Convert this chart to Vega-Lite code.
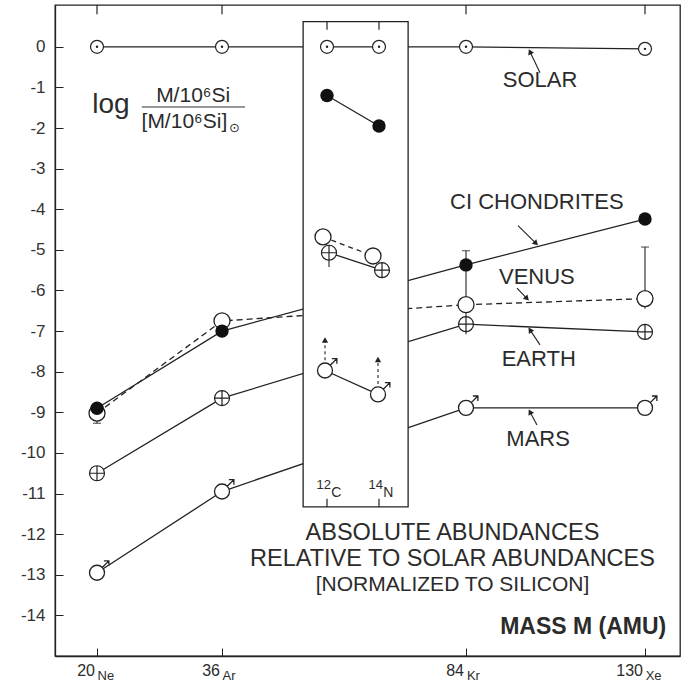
{
  "$schema": "https://vega.github.io/schema/vega-lite/v6.json",
  "width": 625,
  "height": 651,
  "autosize": {"type": "none"},
  "padding": {"left": 55, "top": 5, "right": 3, "bottom": 27},
  "background": "white",
  "config": {
    "view": {"stroke": "#222", "strokeWidth": 1.3},
    "font": "Liberation Sans",
    "text": {"font": "Liberation Sans", "color": "#2b2b2b"}
  },
  "datasets": {
    "pts": [
      {"series": "Solar", "part": "main", "el": "Ne", "x": 6.72, "y": 0},
      {"series": "Solar", "part": "main", "el": "Ar", "x": 26.72, "y": 0},
      {"series": "Solar", "part": "main", "el": "Kr", "x": 65.76, "y": 0},
      {"series": "Solar", "part": "main", "el": "Xe", "x": 94.4, "y": -0.05},
      {"series": "Solar", "part": "inset", "el": "C", "x": 43.52, "y": 0},
      {"series": "Solar", "part": "inset", "el": "N", "x": 51.84, "y": 0},
      {"series": "CI", "part": "main", "el": "Ne", "x": 6.72, "y": -8.9},
      {"series": "CI", "part": "main", "el": "Ar", "x": 26.72, "y": -7.0},
      {"series": "CI", "part": "main", "el": "Kr", "x": 65.76, "y": -5.37},
      {"series": "CI", "part": "main", "el": "Xe", "x": 94.4, "y": -4.24},
      {"series": "CI", "part": "inset", "el": "C", "x": 43.52, "y": -1.2},
      {"series": "CI", "part": "inset", "el": "N", "x": 51.84, "y": -1.95},
      {"series": "Venus", "part": "main", "el": "Ne", "x": 6.72, "y": -9.02},
      {"series": "Venus", "part": "main", "el": "Ar", "x": 26.72, "y": -6.75},
      {"series": "Venus", "part": "main", "el": "Kr", "x": 65.76, "y": -6.35},
      {"series": "Venus", "part": "main", "el": "Xe", "x": 94.4, "y": -6.2},
      {"series": "Venus", "part": "inset", "el": "C", "x": 42.88, "y": -4.68},
      {"series": "Venus", "part": "inset", "el": "N", "x": 50.88, "y": -5.15},
      {"series": "Earth", "part": "main", "el": "Ne", "x": 6.72, "y": -10.5},
      {"series": "Earth", "part": "main", "el": "Ar", "x": 26.72, "y": -8.65},
      {"series": "Earth", "part": "main", "el": "Kr", "x": 65.76, "y": -6.83},
      {"series": "Earth", "part": "main", "el": "Xe", "x": 94.4, "y": -7.02},
      {"series": "Earth", "part": "inset", "el": "C", "x": 43.84, "y": -5.07},
      {"series": "Earth", "part": "inset", "el": "N", "x": 52.32, "y": -5.5},
      {"series": "Mars", "part": "main", "el": "Ne", "x": 6.72, "y": -12.95},
      {"series": "Mars", "part": "main", "el": "Ar", "x": 26.72, "y": -10.95},
      {"series": "Mars", "part": "main", "el": "Kr", "x": 65.76, "y": -8.89},
      {"series": "Mars", "part": "main", "el": "Xe", "x": 94.4, "y": -8.89},
      {"series": "Mars", "part": "inset", "el": "C", "x": 43.2, "y": -7.97},
      {"series": "Mars", "part": "inset", "el": "N", "x": 51.68, "y": -8.56}
    ],
    "errs": [
      {"x": 6.72, "lo": -9.02, "hi": -9.27},
      {"x": 65.76, "lo": -5.02, "hi": -5.37},
      {"x": 65.76, "lo": -5.45, "hi": -6.6},
      {"x": 65.76, "lo": -6.6, "hi": -7.08},
      {"x": 94.4, "lo": -4.93, "hi": -6.45},
      {"x": 94.4, "lo": -6.85, "hi": -7.18},
      {"x": 43.84, "lo": -4.88, "hi": -5.42}
    ],
    "caps": [
      {"x": 6.72, "y": -9.27},
      {"x": 65.76, "y": -5.02},
      {"x": 94.4, "y": -4.93}
    ],
    "arrows": [
      {"kind": "label", "x": 77.6, "y": -0.64, "tx": 76.0, "ty": -0.12},
      {"kind": "label", "x": 74.08, "y": -4.4, "tx": 76.96, "ty": -4.84},
      {"kind": "label", "x": 73.92, "y": -5.94, "tx": 75.52, "ty": -6.2},
      {"kind": "label", "x": 77.6, "y": -7.34, "tx": 76.0, "ty": -6.97},
      {"kind": "label", "x": 77.12, "y": -9.31, "tx": 76.0, "ty": -8.99},
      {"kind": "limit", "x": 43.2, "y": -7.72, "tx": 43.2, "ty": -7.22},
      {"kind": "limit", "x": 51.68, "y": -8.3, "tx": 51.68, "ty": -7.7}
    ],
    "boxticks": [
      {"x": 43.52, "y": 0.62, "y2": 0.42},
      {"x": 51.84, "y": 0.62, "y2": 0.42},
      {"x": 43.52, "y": -11.33, "y2": -11.13},
      {"x": 51.84, "y": -11.33, "y2": -11.13}
    ],
    "topticks": [{"x": 6.72}, {"x": 26.72}, {"x": 65.76}, {"x": 94.4}],
    "texts": [
      {"role": "series", "t": "SOLAR", "x": 77.6, "y": -0.81},
      {"role": "series", "t": "CI CHONDRITES", "x": 77.1, "y": -3.83},
      {"role": "series", "t": "VENUS", "x": 77.1, "y": -5.66},
      {"role": "series", "t": "EARTH", "x": 77.4, "y": -7.68},
      {"role": "series", "t": "MARS", "x": 77.3, "y": -9.66},
      {"role": "title", "t": "ABSOLUTE ABUNDANCES", "x": 63.6, "y": -11.96},
      {"role": "title", "t": "RELATIVE TO SOLAR ABUNDANCES", "x": 63.6, "y": -12.6},
      {"role": "title3", "t": "[NORMALIZED TO SILICON]", "x": 63.6, "y": -13.24},
      {"role": "mass", "t": "MASS M (AMU)", "x": 97.8, "y": -14.28},
      {"role": "log", "t": "log", "x": 8.96, "y": -1.43},
      {"role": "frac", "t": "M/10⁶Si", "x": 22.1, "y": -1.2},
      {"role": "frac", "t": "[M/10⁶Si]", "x": 20.7, "y": -1.84},
      {"role": "sun", "t": "⊙", "x": 28.7, "y": -2.0},
      {"role": "num", "t": "20", "x": 6.4, "y": -15.37},
      {"role": "num", "t": "36", "x": 26.4, "y": -15.37},
      {"role": "num", "t": "84", "x": 65.44, "y": -15.37},
      {"role": "num", "t": "130", "x": 94.08, "y": -15.37},
      {"role": "el", "t": "Ne", "x": 6.8, "y": -15.5},
      {"role": "el", "t": "Ar", "x": 26.8, "y": -15.5},
      {"role": "el", "t": "Kr", "x": 65.9, "y": -15.5},
      {"role": "el", "t": "Xe", "x": 94.5, "y": -15.5},
      {"role": "boxnum", "t": "12", "x": 44.16, "y": -10.8},
      {"role": "boxnum", "t": "14", "x": 52.48, "y": -10.8},
      {"role": "boxel", "t": "C", "x": 44.2, "y": -10.98},
      {"role": "boxel", "t": "N", "x": 52.5, "y": -10.98}
    ]
  },
  "layer": [
    {
      "data": {"name": "pts"},
      "transform": [{"filter": "datum.part == 'main' && datum.series != 'Venus'"}],
      "mark": {"type": "line", "color": "#222", "strokeWidth": 1.3},
      "encoding": {
        "x": {"field": "x", "type": "quantitative", "scale": {"domain": [0, 100], "nice": false, "zero": false},
          "axis": {"title": null, "values": [6.72, 26.72, 65.76, 94.4], "labels": false, "tickSize": -8, "grid": false, "domainColor": "#222", "tickColor": "#222", "domainWidth": 1.3}},
        "y": {"field": "y", "type": "quantitative", "scale": {"domain": [-15, 1.03], "nice": false, "zero": false},
          "axis": {"title": null, "values": [0, -1, -2, -3, -4, -5, -6, -7, -8, -9, -10, -11, -12, -13, -14], "tickSize": -8, "labelPadding": 18, "labelFontSize": 17, "labelFont": "Liberation Sans", "labelColor": "#333", "grid": false, "domainColor": "#222", "tickColor": "#222", "domainWidth": 1.3, "labelExpr": "replace(datum.label, '−', '-')"}},
        "detail": {"field": "series"}
      }
    },
    {
      "data": {"name": "pts"},
      "transform": [{"filter": "datum.part == 'main' && datum.series == 'Venus'"}],
      "mark": {"type": "line", "color": "#222", "strokeWidth": 1.3, "strokeDash": [6, 4]},
      "encoding": {"x": {"field": "x", "type": "quantitative"}, "y": {"field": "y", "type": "quantitative"}}
    },
    {
      "data": {"values": [{}]},
      "mark": {"type": "rect", "fill": "white", "stroke": "#222", "strokeWidth": 1.3},
      "encoding": {"x": {"datum": 39.7}, "x2": {"datum": 56.5}, "y": {"datum": 0.62}, "y2": {"datum": -11.33}}
    },
    {
      "data": {"name": "boxticks"},
      "mark": {"type": "rule", "color": "#222", "strokeWidth": 1.2},
      "encoding": {"x": {"field": "x", "type": "quantitative"}, "y": {"field": "y", "type": "quantitative"}, "y2": {"field": "y2"}}
    },
    {
      "data": {"name": "topticks"},
      "mark": {"type": "rule", "color": "#222", "strokeWidth": 1.2},
      "encoding": {"x": {"field": "x", "type": "quantitative"}, "y": {"datum": 1.03}, "y2": {"datum": 0.8}}
    },
    {
      "data": {"name": "pts"},
      "transform": [{"filter": "datum.part == 'inset' && datum.series != 'Venus' && datum.series != 'Mars'"}],
      "mark": {"type": "line", "color": "#222", "strokeWidth": 1.3},
      "encoding": {"x": {"field": "x", "type": "quantitative"}, "y": {"field": "y", "type": "quantitative"}, "detail": {"field": "series"}}
    },
    {
      "data": {"name": "pts"},
      "transform": [{"filter": "datum.part == 'inset' && datum.series == 'Mars'"}],
      "mark": {"type": "line", "color": "#222", "strokeWidth": 1.3},
      "encoding": {"x": {"field": "x", "type": "quantitative"}, "y": {"field": "y", "type": "quantitative"}}
    },
    {
      "data": {"name": "pts"},
      "transform": [{"filter": "datum.part == 'inset' && datum.series == 'Venus'"}],
      "mark": {"type": "line", "color": "#222", "strokeWidth": 1.3, "strokeDash": [5, 4]},
      "encoding": {"x": {"field": "x", "type": "quantitative"}, "y": {"field": "y", "type": "quantitative"}}
    },
    {
      "data": {"name": "errs"},
      "mark": {"type": "rule", "color": "#222", "strokeWidth": 1.1},
      "encoding": {"x": {"field": "x", "type": "quantitative"}, "y": {"field": "lo", "type": "quantitative"}, "y2": {"field": "hi"}}
    },
    {
      "data": {"name": "caps"},
      "mark": {"type": "tick", "orient": "horizontal", "color": "#222", "size": 8, "thickness": 1.2},
      "encoding": {"x": {"field": "x", "type": "quantitative"}, "y": {"field": "y", "type": "quantitative"}}
    },
    {
      "data": {"name": "arrows"},
      "transform": [{"filter": "datum.kind == 'label'"}],
      "mark": {"type": "rule", "color": "#222", "strokeWidth": 1.1},
      "encoding": {"x": {"field": "x", "type": "quantitative"}, "y": {"field": "y", "type": "quantitative"}, "x2": {"field": "tx"}, "y2": {"field": "ty"}}
    },
    {
      "data": {"name": "arrows"},
      "transform": [{"filter": "datum.kind == 'limit'"}],
      "mark": {"type": "rule", "color": "#222", "strokeWidth": 1.1, "strokeDash": [3, 3]},
      "encoding": {"x": {"field": "x", "type": "quantitative"}, "y": {"field": "y", "type": "quantitative"}, "x2": {"field": "tx"}, "y2": {"field": "ty"}}
    },
    {
      "data": {"name": "arrows"},
      "transform": [{"calculate": "atan2((datum.tx - datum.x) * 6.25, (datum.ty - datum.y) * 40.6) * 180 / PI", "as": "ang"}],
      "mark": {"type": "point", "shape": "triangle-up", "filled": true, "color": "#222", "size": 40, "opacity": 1},
      "encoding": {"x": {"field": "tx", "type": "quantitative"}, "y": {"field": "ty", "type": "quantitative"}, "angle": {"field": "ang", "type": "quantitative", "scale": null}}
    },
    {
      "data": {"name": "pts"},
      "transform": [{"filter": "datum.series == 'Venus'"}],
      "mark": {"type": "point", "shape": "circle", "filled": false, "fill": "white", "fillOpacity": 1, "stroke": "#222", "strokeWidth": 1.3, "size": 256, "opacity": 1},
      "encoding": {"x": {"field": "x", "type": "quantitative"}, "y": {"field": "y", "type": "quantitative"}}
    },
    {
      "data": {"name": "pts"},
      "transform": [{"filter": "datum.series == 'Earth'"}],
      "mark": {"type": "point", "shape": "M-1,0A1,1 0 1,0 1,0A1,1 0 1,0 -1,0ZM-1,0L1,0M0,-1L0,1", "filled": false, "fill": "white", "fillOpacity": 1, "stroke": "#222", "strokeWidth": 1.2, "size": 225, "opacity": 1},
      "encoding": {"x": {"field": "x", "type": "quantitative"}, "y": {"field": "y", "type": "quantitative"}}
    },
    {
      "data": {"name": "pts"},
      "transform": [{"filter": "datum.series == 'Mars'"}],
      "mark": {"type": "point", "shape": "M-0.6,0A0.6,0.6 0 1,0 0.6,0A0.6,0.6 0 1,0 -0.6,0ZM0.42,-0.42L0.95,-0.95M0.55,-0.95L0.95,-0.95L0.95,-0.55", "filled": false, "fill": "white", "fillOpacity": 1, "stroke": "#222", "strokeWidth": 1.3, "size": 625, "opacity": 1},
      "encoding": {"x": {"field": "x", "type": "quantitative"}, "y": {"field": "y", "type": "quantitative"}}
    },
    {
      "data": {"name": "pts"},
      "transform": [{"filter": "datum.series == 'Solar'"}],
      "mark": {"type": "point", "shape": "circle", "filled": false, "fill": "white", "fillOpacity": 1, "stroke": "#222", "strokeWidth": 1.2, "size": 169, "opacity": 1},
      "encoding": {"x": {"field": "x", "type": "quantitative"}, "y": {"field": "y", "type": "quantitative"}}
    },
    {
      "data": {"name": "pts"},
      "transform": [{"filter": "datum.series == 'Solar'"}],
      "mark": {"type": "point", "shape": "circle", "filled": true, "color": "#222", "size": 6, "opacity": 1},
      "encoding": {"x": {"field": "x", "type": "quantitative"}, "y": {"field": "y", "type": "quantitative"}}
    },
    {
      "data": {"name": "pts"},
      "transform": [{"filter": "datum.series == 'CI'"}],
      "mark": {"type": "point", "shape": "circle", "filled": true, "color": "#111", "size": 180, "opacity": 1},
      "encoding": {"x": {"field": "x", "type": "quantitative"}, "y": {"field": "y", "type": "quantitative"}}
    },
    {
      "data": {"values": [{}]},
      "mark": {"type": "rule", "color": "#333", "strokeWidth": 1.1},
      "encoding": {"x": {"datum": 13.9}, "x2": {"datum": 30.4}, "y": {"datum": -1.48}}
    },
    {
      "data": {"name": "texts"},
      "transform": [{"filter": "datum.role == 'series'"}],
      "mark": {"type": "text", "fontSize": 22, "align": "center", "baseline": "middle"},
      "encoding": {"x": {"field": "x", "type": "quantitative"}, "y": {"field": "y", "type": "quantitative"}, "text": {"field": "t"}}
    },
    {
      "data": {"name": "texts"},
      "transform": [{"filter": "datum.role == 'title'"}],
      "mark": {"type": "text", "fontSize": 23.5, "align": "center", "baseline": "middle"},
      "encoding": {"x": {"field": "x", "type": "quantitative"}, "y": {"field": "y", "type": "quantitative"}, "text": {"field": "t"}}
    },
    {
      "data": {"name": "texts"},
      "transform": [{"filter": "datum.role == 'title3'"}],
      "mark": {"type": "text", "fontSize": 21, "align": "center", "baseline": "middle"},
      "encoding": {"x": {"field": "x", "type": "quantitative"}, "y": {"field": "y", "type": "quantitative"}, "text": {"field": "t"}}
    },
    {
      "data": {"name": "texts"},
      "transform": [{"filter": "datum.role == 'mass'"}],
      "mark": {"type": "text", "fontSize": 23, "fontWeight": "bold", "align": "right", "baseline": "middle"},
      "encoding": {"x": {"field": "x", "type": "quantitative"}, "y": {"field": "y", "type": "quantitative"}, "text": {"field": "t"}}
    },
    {
      "data": {"name": "texts"},
      "transform": [{"filter": "datum.role == 'log'"}],
      "mark": {"type": "text", "fontSize": 28, "align": "center", "baseline": "middle"},
      "encoding": {"x": {"field": "x", "type": "quantitative"}, "y": {"field": "y", "type": "quantitative"}, "text": {"field": "t"}}
    },
    {
      "data": {"name": "texts"},
      "transform": [{"filter": "datum.role == 'frac'"}],
      "mark": {"type": "text", "fontSize": 21, "align": "center", "baseline": "middle"},
      "encoding": {"x": {"field": "x", "type": "quantitative"}, "y": {"field": "y", "type": "quantitative"}, "text": {"field": "t"}}
    },
    {
      "data": {"name": "texts"},
      "transform": [{"filter": "datum.role == 'sun'"}],
      "mark": {"type": "text", "fontSize": 13, "font": "DejaVu Sans", "align": "center", "baseline": "middle"},
      "encoding": {"x": {"field": "x", "type": "quantitative"}, "y": {"field": "y", "type": "quantitative"}, "text": {"field": "t"}}
    },
    {
      "data": {"name": "texts"},
      "transform": [{"filter": "datum.role == 'num'"}],
      "mark": {"type": "text", "fontSize": 16, "align": "right", "baseline": "middle"},
      "encoding": {"x": {"field": "x", "type": "quantitative"}, "y": {"field": "y", "type": "quantitative"}, "text": {"field": "t"}}
    },
    {
      "data": {"name": "texts"},
      "transform": [{"filter": "datum.role == 'el'"}],
      "mark": {"type": "text", "fontSize": 13, "align": "left", "baseline": "middle"},
      "encoding": {"x": {"field": "x", "type": "quantitative"}, "y": {"field": "y", "type": "quantitative"}, "text": {"field": "t"}}
    },
    {
      "data": {"name": "texts"},
      "transform": [{"filter": "datum.role == 'boxnum'"}],
      "mark": {"type": "text", "fontSize": 13, "align": "right", "baseline": "middle"},
      "encoding": {"x": {"field": "x", "type": "quantitative"}, "y": {"field": "y", "type": "quantitative"}, "text": {"field": "t"}}
    },
    {
      "data": {"name": "texts"},
      "transform": [{"filter": "datum.role == 'boxel'"}],
      "mark": {"type": "text", "fontSize": 14, "align": "left", "baseline": "middle"},
      "encoding": {"x": {"field": "x", "type": "quantitative"}, "y": {"field": "y", "type": "quantitative"}, "text": {"field": "t"}}
    }
  ]
}
